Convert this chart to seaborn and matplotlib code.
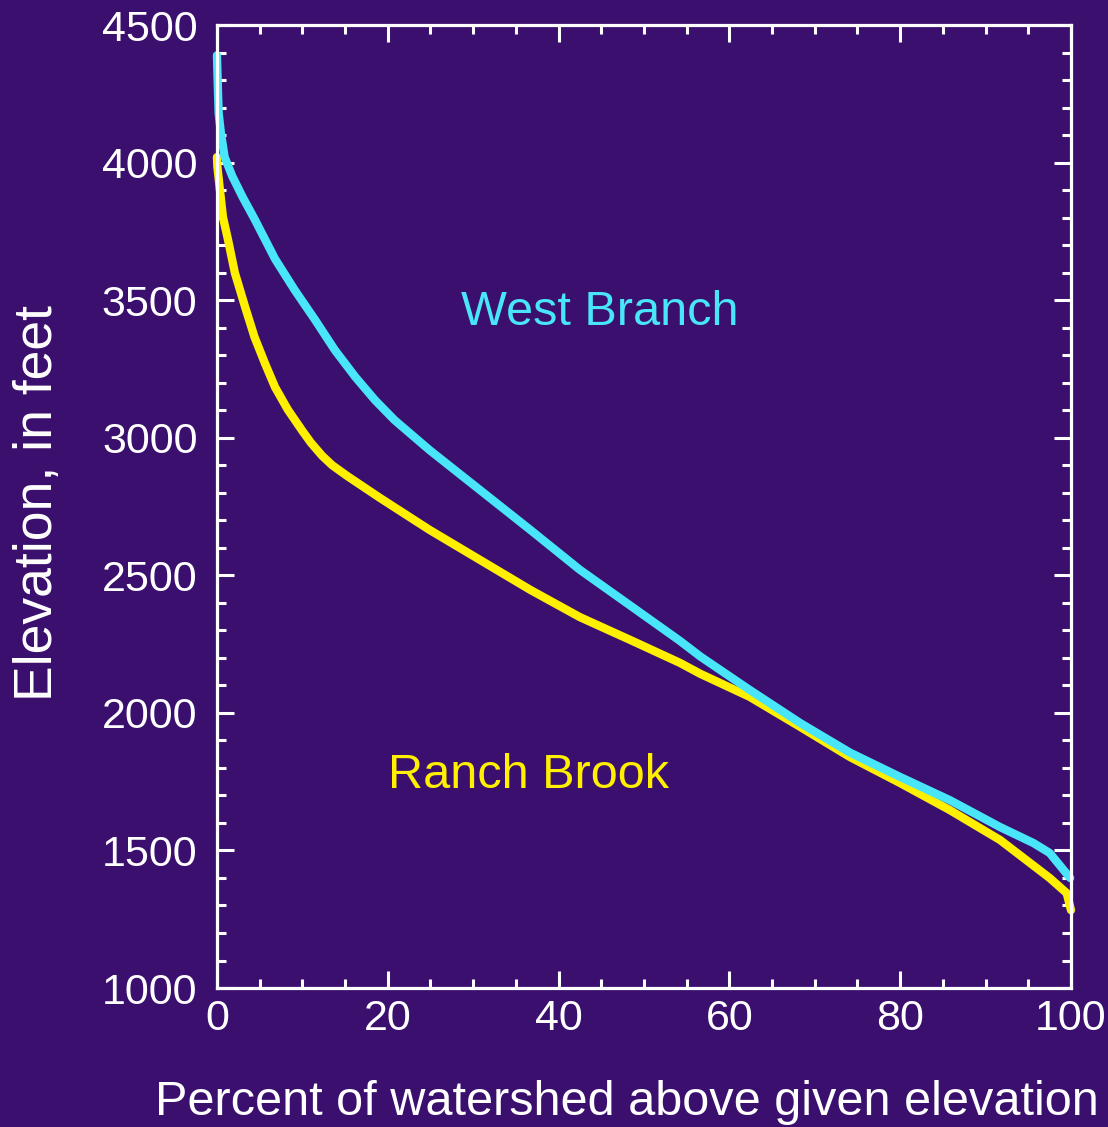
import matplotlib
matplotlib.use("Agg")
import matplotlib.pyplot as plt
from matplotlib.ticker import MultipleLocator
import numpy as np
import pandas as pd
import seaborn as sns

# Hypsometric curves: percent of watershed area lying above a given elevation
west_pct = [0.0, 0.1, 0.2, 0.45, 0.9, 1.8, 3.0, 4.4, 6.8, 9.1, 11.5, 13.8,
            16.2, 18.5, 20.8, 24.9, 30.8, 36.7, 42.5, 48.4, 54.2, 56.6,
            62.4, 68.3, 74.1, 80.0, 85.8, 91.7, 95.6, 97.5, 99.9]
west_elev = [4390, 4280, 4180, 4110, 4020, 3950, 3875, 3795, 3650, 3537, 3428,
             3319, 3221, 3137, 3064, 2955, 2810, 2665, 2520, 2390, 2262, 2205,
             2083, 1963, 1856, 1767, 1683, 1585, 1527, 1491, 1400]

ranch_pct = [0.0, 0.05, 0.35, 0.7, 1.3, 2.1, 3.3, 4.4, 5.6, 6.8, 8.3, 10.0,
             11.0, 12.3, 13.5, 15.3, 19.1, 24.9, 30.8, 36.7, 42.5, 48.4, 54.2,
             56.6, 62.4, 68.3, 74.1, 80.0, 85.8, 91.7, 97.5, 99.5, 100.0]
ranch_elev = [4020, 3985, 3900, 3802, 3719, 3599, 3475, 3366, 3272, 3184, 3102,
              3025, 2982, 2935, 2900, 2860, 2781, 2665, 2556, 2447, 2348, 2265,
              2182, 2142, 2058, 1949, 1840, 1745, 1647, 1538, 1400, 1345, 1283]

basins = ["Ranch Brook", "West Branch"]
basin_colors = {"West Branch": "#48e6f8", "Ranch Brook": "#fff000"}

x_ticks = [0, 20, 40, 60, 80, 100]
y_ticks = [1000, 1500, 2000, 2500, 3000, 3500, 4000, 4500]

df = pd.concat([
    pd.DataFrame({"pct": ranch_pct, "elev": ranch_elev, "basin": "Ranch Brook"}),
    pd.DataFrame({"pct": west_pct, "elev": west_elev, "basin": "West Branch"}),
], ignore_index=True)

bg = "#3b0f6e"
sns.set_style("ticks")
plt.rcParams["font.family"] = ["Liberation Sans", "DejaVu Sans"]
plt.rcParams["axes.unicode_minus"] = False

fig = plt.figure(figsize=(11.08, 11.27), dpi=100, facecolor=bg)
ax = fig.add_axes([0.1958, 0.1233, 0.7708, 0.8545])
ax.set_facecolor(bg)

sns.lineplot(data=df, x="pct", y="elev", hue="basin", hue_order=basins,
             palette=basin_colors, linewidth=6.0, estimator=None, sort=False,
             legend=False, ax=ax)
for line in ax.lines:
    line.set_clip_on(False)
    line.set_solid_capstyle("round")
    line.set_solid_joinstyle("round")

ax.set_xlim(0, 100)
ax.set_ylim(1000, 4500)
ax.set_xticks(x_ticks)
ax.set_yticks(y_ticks)
ax.xaxis.set_minor_locator(MultipleLocator(5))
ax.yaxis.set_minor_locator(MultipleLocator(100))

for side in ["left", "right", "top", "bottom"]:
    ax.spines[side].set_visible(True)
    ax.spines[side].set_color("white")
    ax.spines[side].set_linewidth(2.3)

ax.tick_params(which="both", direction="in", top=True, right=True,
               colors="white", width=2.2, labelsize=31)
ax.tick_params(which="major", length=12.5)
ax.tick_params(which="minor", length=6.5)
ax.tick_params(axis="x", which="major", pad=8)
ax.tick_params(axis="y", which="major", pad=14)

ax.set_xlabel("Percent of watershed above given elevation", fontsize=35,
              color="white")
ax.xaxis.label.set_va("baseline")
ax.xaxis.set_label_coords(0.48, -0.132)

ax.set_ylabel("Elevation, in feet", fontsize=38.5, color="white")
ax.yaxis.label.set_va("baseline")
ax.yaxis.set_label_coords(-0.193, 0.504)

ax.text(44.8, 3410, "West Branch", color=basin_colors["West Branch"],
        fontsize=35, ha="center", va="baseline")
ax.text(36.5, 1727, "Ranch Brook", color=basin_colors["Ranch Brook"],
        fontsize=35, ha="center", va="baseline")

fig.savefig("out.png", dpi=100, facecolor=bg)
